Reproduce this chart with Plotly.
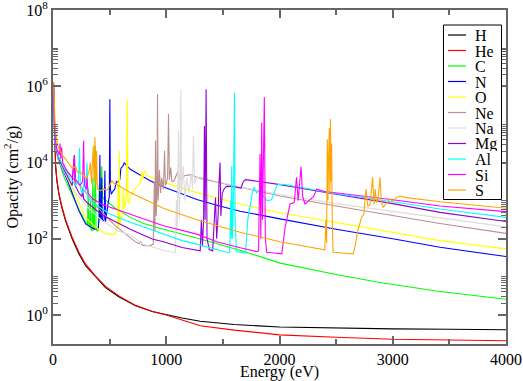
import plotly.graph_objects as go

# ---------------- data (energy in eV, opacity in cm^2/g) ----------------
names = ["H", "He", "C", "N", "O", "Ne", "Na", "Mg", "Al", "Si", "S"]
colors = ["#000000", "#ff0000", "#00ff00", "#0000ff", "#ffff00", "#bc8f8f",
          "#dcdcdc", "#9400d3", "#00ffff", "#ff00ff", "#ffa500"]

E_H = [5, 15, 23, 35, 53, 80, 111, 170, 229, 288, 376, 464, 581, 729, 876, 1000,
       1140, 1300, 1600, 2000, 2500, 3000, 3500, 4000]
K_H = [1.26e6, 7.9e4, 7.9e3, 3.2e3, 1.41e3, 630, 295, 98, 40, 19.5, 9.8, 5.2, 3.0,
       1.74, 1.23, 1.02, 0.83, 0.68, 0.56, 0.48, 0.45, 0.43, 0.42, 0.41]

E_He = [5, 15, 23, 35, 53, 80, 111, 170, 229, 288, 376, 464, 581, 729, 876, 1000,
        1140, 1300, 1600, 2000, 2500, 3000, 3500, 4000]
K_He = [1.0e6, 7.1e4, 8.3e3, 3.4e3, 1.51e3, 680, 316, 107, 44, 21.4, 10.5, 5.6, 3.16,
        1.78, 1.23, 1.0, 0.74, 0.52, 0.40, 0.30, 0.26, 0.23, 0.22, 0.21]

E_C = [5, 15, 30, 50, 100, 150, 200, 250, 290, 305, 311, 317, 325, 330, 336, 345, 352,
       358, 366, 373, 380, 390, 400, 408, 415, 422, 430, 437, 445, 470, 550, 682, 800,
       975, 1270, 1652, 2005, 2500, 2887, 3400, 4000]
K_C = [7.9e5, 5.0e4, 2.0e4, 1.12e4, 3.98e3, 1.78e3, 891, 447, 263, 240, 2.0e3, 224,
       200, 1.0e3, 178, 158, 3.98e3, 166, 178, 2.75e4, 200, 158, 166, 2.51e3, 1.26e3,
       3.16e3, 7.94e3, 1.26e3, 1.12e3, 1.0e3, 631, 363, 251, 178, 105, 50, 22.9, 11.5,
       7.1, 4.2, 2.57]

E_N = [5, 15, 30, 50, 100, 141, 229, 288, 347, 376, 400, 410, 414, 418, 425, 430, 436,
       443, 452, 458, 464, 470, 480, 490, 497, 502, 507, 515, 530, 545, 560, 575, 590,
       600, 615, 629, 682, 858, 1000, 1152, 1270, 1446, 1652, 2005, 2500, 3000, 3417, 4000]
K_N = [7.9e5, 5.6e4, 2.0e4, 1.12e4, 5.25e3, 2.69e3, 537, 245, 191, 178, 191, 398,
       1.58e4, 398, 316, 3.98e3, 316, 282, 316, 6.03e3, 282, 398, 631, 1.0e3, 1.26e3,
       4.57e5, 2.0e3, 1.48e3, 1.78e3, 2.0e3, 3.16e3, 3.02e3, 3.55e3, 7.08e3, 7.94e3,
       9.77e3, 6.61e3, 3.31e3, 2.14e3, 1.41e3, 1.07e3, 759, 525, 331, 178, 100, 60, 34]

E_O = [5, 15, 30, 50, 111, 229, 288, 376, 460, 500, 545, 560, 570, 575, 580, 585, 590,
       600, 615, 622, 630, 640, 648, 655, 662, 670, 690, 720, 770, 785, 792, 800, 814,
       830, 975, 1270, 1652, 2005, 2500, 3000, 3417, 4000]
K_O = [7.1e5, 5.0e4, 2.0e4, 1.12e4, 5.0e3, 813, 363, 200, 138, 132, 132, 158, 251,
       3.16e3, 200, 2.04e4, 251, 316, 501, 2.0e3, 631, 794, 1.58e3, 4.57e5, 1.0e3, 832,
       1.41e3, 2.0e3, 2.82e3, 6.03e3, 3.55e3, 5.01e3, 6.03e3, 4.57e3, 3.02e3, 1.62e3,
       813, 479, 263, 148, 89, 54]

E_Ne = [5, 15, 30, 50, 100, 170, 252, 400, 546, 682, 723, 760, 775, 785, 800, 850, 885,
        895, 900, 905, 912, 918, 923, 928, 940, 950, 960, 975, 985, 992, 1000, 1012,
        1020, 1028, 1040, 1050, 1070, 1100, 1130, 1160, 1211, 1299, 1652, 2005, 2500,
        3000, 3417, 4000]
K_Ne = [6.3e5, 4.5e4, 2.0e4, 1.26e4, 7.1e3, 3.98e3, 2.24e3, 631, 224, 105, 85, 74, 85,
        69, 66, 66, 71, 3.16e3, 158, 3.72e4, 398, 1.58e3, 6.17e5, 1.0e3, 6.31e3, 1.58e3,
        3.98e3, 2.0e3, 2.04e4, 2.51e3, 2.82e3, 3.98e3, 1.86e5, 3.55e3, 7.41e3, 3.16e3,
        3.31e3, 5.62e3, 3.55e3, 4.47e3, 4.79e3, 3.8e3, 2.24e3, 1.32e3, 724, 398, 251, 138]

E_Na = [5, 15, 30, 50, 100, 200, 300, 435, 581, 682, 800, 876, 975, 1050, 1080, 1090,
        1096, 1108, 1115, 1122, 1129, 1135, 1150, 1165, 1180, 1200, 1220, 1232, 1240,
        1250, 1270, 1300, 1446, 1652, 2005, 2500, 3000, 3417, 4000]
K_Na = [6.3e5, 4.0e4, 1.78e4, 1.12e4, 5.6e3, 1.58e3, 708, 295, 158, 126, 71, 60, 50,
        45, 44, 1.0e3, 158, 6.76e4, 316, 2.51e3, 8.3e5, 1.58e3, 7.94e3, 1.0e3, 3.98e3,
        1.58e3, 5.01e3, 2.0e3, 5.01e4, 2.82e3, 3.98e3, 4.17e3, 3.16e3, 2.29e3, 1.45e3,
        832, 525, 363, 204]

E_Mg = [5, 15, 30, 50, 100, 150, 170, 180, 188, 195, 230, 255, 262, 270, 300, 435, 682,
        876, 975, 1140, 1270, 1300, 1310, 1320, 1330, 1337, 1343, 1352, 1360, 1380, 1410,
        1425, 1435, 1445, 1458, 1465, 1475, 1482, 1495, 1510, 1534, 1600, 1660, 1681,
        1700, 1750, 2005, 2500, 3000, 3417, 4000]
K_Mg = [7.1e5, 4.5e4, 2.0e4, 1.26e4, 6.3e3, 3.16e3, 2.51e3, 7.94e3, 1.58e4, 2.51e3,
        1.58e3, 1.26e3, 2.0e3, 1.12e3, 891, 417, 178, 98, 83, 59, 50, 48, 316, 63, 316,
        9.1e4, 316, 8.3e5, 100, 52, 48, 251, 1.2e3, 100, 398, 2.51e3, 1.0e4, 398, 1.58e3,
        2.0e3, 2.4e3, 2.29e3, 2.14e3, 3.16e3, 3.55e3, 3.39e3, 2.63e3, 1.48e3, 832, 490, 282]

E_Al = [5, 15, 30, 50, 100, 150, 200, 225, 235, 242, 260, 282, 290, 300, 308, 330, 400,
        500, 682, 975, 1140, 1270, 1446, 1549, 1560, 1570, 1574, 1578, 1585, 1595, 1602,
        1608, 1620, 1700, 1720, 1740, 1760, 1775, 1800, 1830, 1860, 1890, 1930, 1975,
        1990, 2050, 2500, 3000, 3417, 4000]
K_Al = [7.9e5, 5.0e4, 2.24e4, 1.41e4, 7.1e3, 3.98e3, 2.51e3, 3.16e3, 2.45e4, 2.0e3,
        1.58e3, 3.98e3, 1.58e3, 1.0e4, 1.26e3, 1.0e3, 708, 447, 269, 132, 89, 72, 52, 43,
        46, 1.0e3, 100, 8.1e3, 100, 3.16e3, 6.76e5, 316, 46, 42, 316, 794, 1.58e3, 2.24e3,
        1.58e3, 2.0e3, 1.26e3, 1.0e3, 1.05e3, 2.4e3, 2.69e3, 2.63e3, 1.51e3, 933, 603, 363]

E_Si = [5, 15, 30, 55, 62, 68, 76, 85, 120, 170, 190, 200, 240, 262, 270, 278, 295, 300,
        310, 350, 435, 682, 975, 1270, 1446, 1652, 1799, 1815, 1828, 1835, 1843, 1850,
        1858, 1866, 1875, 1887, 1950, 2020, 2050, 2080, 2093, 2130, 2150, 2165, 2190,
        2205, 2225, 2260, 2300, 2328, 2400, 3000, 3417, 4000]
K_Si = [8.9e5, 5.6e4, 2.51e4, 1.58e4, 3.16e4, 1.26e4, 2.51e4, 1.0e4, 6.3e3, 3.98e3,
        1.35e4, 3.55e3, 2.51e3, 3.16e3, 3.72e4, 2.51e3, 2.0e3, 3.98e3, 1.58e3, 1.12e3,
        794, 447, 219, 132, 83, 58, 46, 48, 1.66e4, 100, 1.12e5, 316, 1.0e4, 5.25e5, 100,
        44, 42, 40, 200, 501, 813, 891, 4.07e3, 1.0e3, 7.76e3, 1.26e3, 813, 1.0e3, 1.26e3,
        2.0e3, 1.74e3, 1.05e3, 724, 513]

E_S = [5, 10, 20, 40, 80, 135, 170, 200, 215, 240, 270, 300, 320, 330, 340, 355, 362,
       370, 378, 385, 392, 417, 450, 480, 500, 520, 540, 600, 682, 975, 1270, 1652, 2005,
       2358, 2400, 2410, 2416, 2422, 2428, 2434, 2440, 2445, 2450, 2455, 2460, 2466, 2473,
       2550, 2650, 2667, 2690, 2710, 2725, 2745, 2763, 2780, 2800, 2822, 2835, 2845, 2857,
       2870, 2887, 2900, 2916, 2950, 2975, 3000, 3030, 3064, 3121, 3417, 4000]
K_S = [1.26e6, 4.0e5, 7.9e4, 2.82e4, 1.58e4, 1.0e4, 7.1e3, 7.9e3, 5.6e3, 5.6e3, 4.47e3,
       3.98e3, 6.3e3, 1.0e4, 2.82e3, 2.75e4, 3.16e3, 4.57e4, 2.51e3, 2.0e4, 2.0e3, 1.82e3,
       2.0e3, 1.91e3, 2.51e3, 3.31e3, 2.82e3, 2.29e3, 1.62e3, 631, 316, 148, 83, 54, 51,
       316, 79, 4.07e4, 1.0e3, 1.58e4, 7.9e4, 1.58e3, 1.38e5, 3.16e3, 3.16e4, 316, 44, 42,
       40, 63, 158, 251, 363, 447, 2.0e3, 708, 794, 4.07e3, 794, 2.0e3, 891, 1.0e3, 4.07e3,
       891, 661, 891, 1.12e3, 955, 1.2e3, 1.32e3, 1.2e3, 933, 631]

X_TICKS = [0, 1000, 2000, 3000, 4000]
X_MINOR = [500, 1500, 2500, 3500]
Y_TICKS = [1, 1e2, 1e4, 1e6, 1e8]
Y_TICKTEXT = ["10<sup>0</sup>", "10<sup>2</sup>", "10<sup>4</sup>", "10<sup>6</sup>", "10<sup>8</sup>"]
Y_MINOR = [k * 10 ** (2 * m) for m in range(4) for k in range(2, 11)]

series = [(E_H, K_H), (E_He, K_He), (E_C, K_C), (E_N, K_N), (E_O, K_O), (E_Ne, K_Ne),
          (E_Na, K_Na), (E_Mg, K_Mg), (E_Al, K_Al), (E_Si, K_Si), (E_S, K_S)]

# ---------------- figure ----------------
W, H = 523, 381
L, R, T, B = 53, 17, 10, 37
FONT = "Liberation Serif"
AXC = "#666666"

fig = go.Figure()
for name, col, (e, k) in zip(names, colors, series):
    fig.add_trace(go.Scatter(x=e, y=k, mode="lines", name=name, showlegend=False,
                             line=dict(color=col, width=1.1)))

fig.update_layout(
    width=W, height=H,
    margin=dict(l=L, r=R, t=T, b=B, autoexpand=False),
    paper_bgcolor="white", plot_bgcolor="white",
    font=dict(family=FONT, size=16, color="black"),
)
fig.update_xaxes(
    range=[0, 4000], tickmode="array", tickvals=X_TICKS,
    ticktext=[str(v) for v in X_TICKS],
    ticks="inside", ticklen=8, tickwidth=1.5, tickcolor=AXC,
    showline=True, linecolor=AXC, linewidth=2, mirror="ticks",
    showgrid=False, zeroline=False, automargin=False, ticklabeloverflow="allow",
    minor=dict(tickmode="array", tickvals=X_MINOR, ticks="inside", ticklen=5,
               tickwidth=1.5, tickcolor=AXC, showgrid=False),
    title=dict(text="Energy (eV)", standoff=4, font=dict(family=FONT, size=16)),
    tickfont=dict(family=FONT, size=16),
)
fig.update_yaxes(
    type="log", range=[-0.763, 8.002], tickmode="array", tickvals=Y_TICKS,
    ticktext=Y_TICKTEXT,
    ticks="inside", ticklen=8, tickwidth=1.5, tickcolor=AXC,
    showline=True, linecolor=AXC, linewidth=2, mirror="ticks",
    showgrid=False, zeroline=False, automargin=False, ticklabeloverflow="allow",
    minor=dict(tickmode="array", tickvals=Y_MINOR, ticks="inside", ticklen=5,
               tickwidth=1.2, tickcolor=AXC, showgrid=False),
    title=dict(text="Opacity (cm<sup>2</sup>/g)", standoff=4, font=dict(family=FONT, size=16)),
    tickfont=dict(family=FONT, size=16),
)

# ---------------- legend box (drawn as shapes + text) ----------------
pw, ph = W - L - R, H - T - B
def px(xpix):
    return (xpix - L) / pw
def py(ypix):
    return 1 - (ypix - T) / ph

fig.add_shape(type="rect", xref="paper", yref="paper",
              x0=px(443.5), x1=px(501.5), y0=py(199.5), y1=py(25),
              line=dict(color="black", width=1), fillcolor="white", layer="above")
for i, (name, col) in enumerate(zip(names, colors)):
    yc = 35 + 15.5 * i
    fig.add_shape(type="line", xref="paper", yref="paper",
                  x0=px(448), x1=px(466), y0=py(yc), y1=py(yc),
                  line=dict(color=col, width=1.2), layer="above")
    fig.add_annotation(xref="paper", yref="paper", x=px(474), y=py(yc + 0.5),
                       text=name, showarrow=False, xanchor="left", yanchor="middle",
                       height=15, borderpad=0,
                       font=dict(family=FONT, size=16, color="black"))

fig.write_html("out.html", config={"displayModeBar": False},
               post_script="document.body.style.margin='0px';document.body.style.padding='0px';")
